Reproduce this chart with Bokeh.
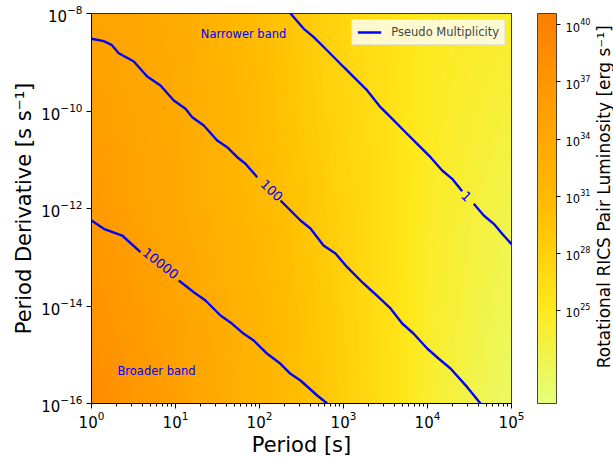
import numpy as np
from bokeh.plotting import figure
from bokeh.layouts import row
from bokeh.models import (LogColorMapper, ColorBar, FixedTicker, Legend, LegendItem,
                          LogTickFormatter)
from bokeh.embed import file_html
from bokeh.resources import INLINE
from bokeh.core.properties import value

FONT = "DejaVu Sans"

# ---- background field: log10(luminosity) read at grid nodes ----
grid_logP = [0, 1, 2, 3, 4, 5]
grid_logPdot = [-16, -14, -12, -10, -8]
grid_logL = [
    [38.5, 35.5, 32.0, 28.3, 24.2, 21.3],
    [37.5, 34.9, 31.6, 28.1, 24.4, 22.0],
    [36.5, 34.0, 31.0, 27.9, 24.6, 22.6],
    [35.7, 33.8, 30.6, 27.5, 24.8, 23.4],
    [34.9, 33.4, 30.4, 27.3, 25.0, 24.2],
]
cbar_low_exp = 20.1
cbar_high_exp = 40.6
cbar_tick_exps = [25, 28, 31, 34, 37, 40]
cbar_title = "Rotational RICS Pair Luminosity [erg s\u207b\u00b9]"

# ---- contour lines (log10 P, log10 Pdot), split where the label sits ----
c10000_a_logP = [0.0, 0.146, 0.365, 0.583]
c10000_a_logPdot = [-12.246, -12.416, -12.554, -12.896]
c10000_b_logP = [1.039, 1.218, 1.357, 1.536, 1.675, 1.813, 1.932, 2.092, 2.25, 2.369, 2.488, 2.687, 2.806]
c10000_b_logPdot = [-13.477, -13.717, -13.887, -14.195, -14.365, -14.570, -14.708, -14.981, -15.186, -15.391, -15.528, -15.836, -16.0]

c100_a_logP = [0.0, 0.146, 0.238, 0.325, 0.504, 0.663, 0.821, 0.980, 1.119, 1.199, 1.337, 1.496, 1.615, 1.735, 1.833, 1.973]
c100_a_logPdot = [-8.519, -8.568, -8.642, -8.814, -8.985, -9.292, -9.477, -9.785, -9.955, -10.127, -10.297, -10.605, -10.743, -10.948, -11.083, -11.358]
c100_b_logP = [2.25, 2.488, 2.607, 2.762, 2.905, 3.044, 3.238, 3.357, 3.560, 3.699, 3.833, 3.996, 4.131, 4.274, 4.473, 4.631]
c100_b_logPdot = [-11.836, -12.246, -12.410, -12.759, -12.923, -13.204, -13.538, -13.723, -14.051, -14.359, -14.564, -14.872, -15.077, -15.282, -15.665, -16.0]

c1_a_logP = [2.369, 2.527, 2.646, 2.806, 3.004, 3.123, 3.282, 3.440, 3.560, 3.718, 3.877, 4.036, 4.175, 4.294, 4.413]
c1_a_logPdot = [-8.0, -8.314, -8.486, -8.759, -9.102, -9.307, -9.579, -9.922, -10.127, -10.400, -10.673, -10.948, -11.221, -11.391, -11.645]
c1_b_logP = [4.551, 4.670, 4.789, 4.889, 5.0]
c1_b_logPdot = [-11.904, -12.144, -12.314, -12.519, -12.73]

clabel_text = ["10000", "100", "1"]
clabel_logP = [0.821, 2.143, 4.464]
clabel_logPdot = [-13.128, -11.631, -11.754]
clabel_angle = [-0.67, -0.76, -0.78]

annot_text = ["Narrower band", "Broader band"]
annot_logP = [1.81, 0.774]
annot_logPdot = [-8.43, -15.34]

x_major = [1, 10, 100, 1e3, 1e4, 1e5]
y_major = [1e-16, 1e-14, 1e-12, 1e-10, 1e-8]


def wistia(n=256):
    s = [0.0, 0.25, 0.5, 0.75, 1.0]
    r = [0.8941, 1.0, 1.0, 1.0, 0.9882]
    g = [1.0, 0.9098, 0.7411, 0.6274, 0.4980]
    b = [0.4784, 0.1019, 0.0, 0.0, 0.0]
    t = np.linspace(0, 1, n)
    R, G, B = (np.interp(t, s, c) for c in (r, g, b))
    return ["#%02x%02x%02x" % (int(round(a * 255)), int(round(bb * 255)), int(round(c * 255)))
            for a, bb, c in zip(R, G, B)]


# render the read grid as a smooth raster
L = np.array(grid_logL)
nx, ny = 300, 300
fx = np.linspace(0, 5, nx)
fy = np.linspace(-16, -8, ny)
rows = np.array([np.interp(fx, grid_logP, r) for r in L])
img = np.array([np.interp(fy, grid_logPdot, rows[:, j]) for j in range(nx)]).T
img = 10.0 ** img

p = figure(frame_width=420, frame_height=390, x_axis_type="log", y_axis_type="log",
           x_range=(1, 1e5), y_range=(1e-16, 1e-8),
           output_backend="svg", toolbar_location=None,
           min_border_left=91, min_border_right=80, min_border_top=13, min_border_bottom=55)
p.grid.visible = False
p.outline_line_color = "black"
p.outline_line_width = 1

mapper = LogColorMapper(palette=wistia(), low=10 ** cbar_low_exp, high=10 ** cbar_high_exp)
p.image(image=[img], x=1, y=1e-16, dw=1e5 - 1, dh=1e-8 - 1e-16, color_mapper=mapper)

lw = 2.4
r_main = p.line(10 ** np.array(c100_a_logP), 10 ** np.array(c100_a_logPdot), line_color="blue", line_width=lw)
p.line(10 ** np.array(c100_b_logP), 10 ** np.array(c100_b_logPdot), line_color="blue", line_width=lw)
p.line(10 ** np.array(c10000_a_logP), 10 ** np.array(c10000_a_logPdot), line_color="blue", line_width=lw)
p.line(10 ** np.array(c10000_b_logP), 10 ** np.array(c10000_b_logPdot), line_color="blue", line_width=lw)
p.line(10 ** np.array(c1_a_logP), 10 ** np.array(c1_a_logPdot), line_color="blue", line_width=lw)
p.line(10 ** np.array(c1_b_logP), 10 ** np.array(c1_b_logPdot), line_color="blue", line_width=lw)

p.text(x=10 ** np.array(clabel_logP), y=10 ** np.array(clabel_logPdot), text=clabel_text,
       angle=clabel_angle, text_font=value(FONT), text_font_size=value("13px"),
       text_color="blue", text_align="center", text_baseline="middle")
p.text(x=10 ** np.array(annot_logP), y=10 ** np.array(annot_logPdot), text=annot_text,
       text_font=value(FONT), text_font_size=value("11.5px"),
       text_color="blue", text_align="center", text_baseline="middle")

# axes
minor_x = [m * 10 ** k for k in range(0, 5) for m in range(2, 10)]
p.xaxis.ticker = FixedTicker(ticks=x_major, minor_ticks=minor_x)
p.yaxis.ticker = FixedTicker(ticks=y_major, minor_ticks=[])
for ax in (p.xaxis, p.yaxis):
    ax.axis_line_color = "black"
    ax.major_tick_line_color = "black"
    ax.minor_tick_line_color = "black"
    ax.major_tick_in = 0
    ax.major_tick_out = 5
    ax.minor_tick_in = 0
    ax.minor_tick_out = 3
    ax.major_label_text_font = FONT
    ax.major_label_text_font_size = "15px"
    ax.major_label_text_color = "black"
    ax.axis_label_text_font = FONT
    ax.axis_label_text_font_size = "21px"
    ax.axis_label_text_font_style = "normal"
    ax.axis_label_text_color = "black"
p.xaxis.axis_label = "Period [s]"
p.yaxis.axis_label = "Period Derivative [s s\u207b\u00b9]"
p.xaxis.major_label_standoff = 2
p.yaxis.major_label_standoff = 4
p.xaxis.axis_label_standoff = 2
p.yaxis.axis_label_standoff = 2

# legend
legend = Legend(items=[LegendItem(label="Pseudo Multiplicity", renderers=[r_main])],
                location="top_right", margin=6, padding=5, spacing=0,
                glyph_width=24, glyph_height=12, label_height=12, label_standoff=10,
                label_text_font=FONT, label_text_font_size="11.5px",
                background_fill_color="white", background_fill_alpha=0.8,
                border_line_color="#cccccc", border_line_width=1)
p.add_layout(legend)

# colour bar (placed just right of the frame)
cbar = ColorBar(color_mapper=mapper, ticker=FixedTicker(ticks=[10.0 ** e for e in cbar_tick_exps]),
                formatter=LogTickFormatter(),
                width=19, height=390, padding=0, margin=0, bar_line_color="#444444",
                major_tick_line_color="black", major_tick_in=0, major_tick_out=4,
                minor_tick_line_color=None, label_standoff=5,
                major_label_text_font=FONT, major_label_text_font_size="11.5px",
                major_label_text_color="black", location=(446, 0),
                background_fill_alpha=0)
p.add_layout(cbar)

# narrow companion figure carrying the colour-bar title (reads bottom-to-top)
p2 = figure(frame_width=22, frame_height=390, output_backend="svg", toolbar_location=None,
            x_range=(0, 1), y_range=(0, 1), x_axis_location=None, y_axis_location=None,
            min_border_left=0, min_border_right=0, min_border_top=13, min_border_bottom=55)
p2.grid.visible = False
p2.outline_line_color = None
p2.text(x=[0.55], y=[0.53], text=[cbar_title], angle=np.pi / 2,
        text_font=value(FONT), text_font_size=value("17px"), text_color="black",
        text_align="center", text_baseline="middle")

layout = row(p, p2, spacing=0)
open("out.html", "w").write(file_html(layout, INLINE))
